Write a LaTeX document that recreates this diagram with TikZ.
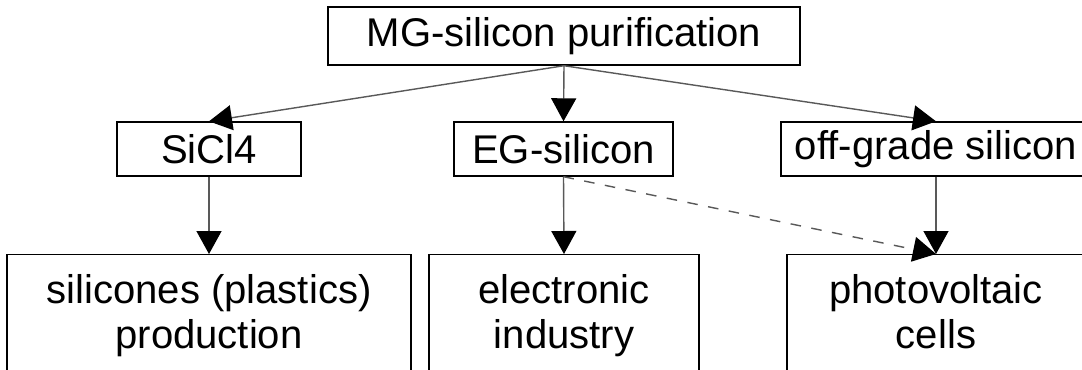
\documentclass[tikz,border=0pt]{standalone}
\usepackage{fontspec}
\setmainfont{Liberation Sans}
\usetikzlibrary{arrows.meta}
\tikzset{
	stage/.style={draw, inner sep=0pt, minimum height=0.54cm,
			font=\fontsize{11.4}{12.8}\selectfont},
	use/.style={draw, inner sep=0pt, minimum height=1.25cm, align=center,
			font=\fontsize{11.4}{12.8}\selectfont},
	flow/.style={draw=black!65, -{Triangle[length=0.23cm,width=0.25cm,color=black]}}
}

\begin{document}
\begin{tikzpicture}

		% Frame of the picture
		\useasboundingbox (0,0) rectangle (10.82,-3.69);
		\clip (0,0) rectangle (10.82,-3.69);

		% Source
		\node[stage, minimum width=4.72cm, minimum height=0.58cm] (mg) at (5.64,-0.36) {MG-silicon purification};

		% Intermediate products
		\node[stage, minimum width=1.84cm] (sicl) at (2.09,-1.49) {SiCl4};
		\node[stage, minimum width=2.19cm] (eg) at (5.635,-1.49) {EG-silicon};
		\node[stage, minimum width=3.10cm] (off) at (9.36,-1.49) {off-grade silicon};

		% Uses
		\node[use, minimum width=4.04cm, anchor=north] (plastics) at (2.09,-2.54) {silicones (plastics)\strut\\production\strut};
		\node[use, minimum width=2.70cm, anchor=north] (elec) at (5.64,-2.54) {electronic\strut\\industry\strut};
		\node[use, minimum width=2.98cm, anchor=north] (pv) at (9.36,-2.54) {photovoltaic\strut\\cells\strut};

		% Connections
		\draw[flow] (mg.south) -- (sicl.north);
		\draw[flow] (mg.south) -- (eg.north);
		\draw[flow] (mg.south) -- (off.north);
		\draw[flow] (sicl.south) -- (plastics.north);
		\draw[flow] (eg.south) -- (elec.north);
		\draw[flow] (off.south) -- (pv.north);
		\draw[flow, dashed] (eg.south) -- (pv.north);
	\end{tikzpicture}
\end{document}
